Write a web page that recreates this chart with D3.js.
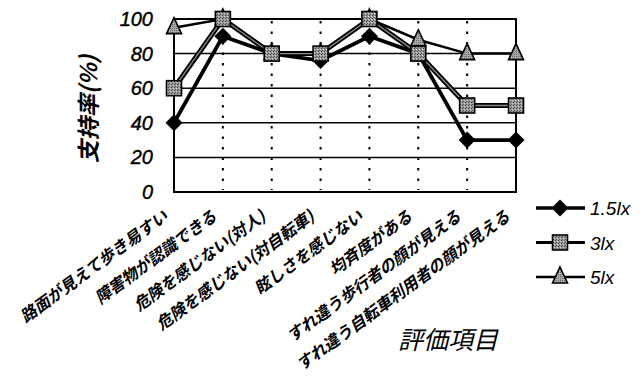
<!DOCTYPE html>
<html>
<head>
<meta charset="utf-8">
<script src="https://cdn.jsdelivr.net/npm/d3@7"></script>
<style>
  html, body { margin: 0; padding: 0; background: #fff; }
  svg { display: block; }
</style>
</head>
<body>
<svg id="chart" width="641" height="376"></svg>
<script>
// Evaluation items (x categories)
const categories = [
  "路面が見えて歩き易すい",
  "障害物が認識できる",
  "危険を感じない(対人)",
  "危険を感じない(対自転車)",
  "眩しさを感じない",
  "均斉度がある",
  "すれ違う歩行者の顔が見える",
  "すれ違う自転車利用者の顔が見える"
];
// Support rate (%) for each illuminance level
const series15 = [40, 90, 80, 76, 90, 80, 30, 30];
const series3  = [60, 100, 80, 80, 100, 80, 50, 50];
const series5  = [95, 100, 80, 80, 100, 88, 80, 80];
const seriesNames = ["1.5lx", "3lx", "5lx"];
const yTicks = [0, 20, 40, 60, 80, 100];
const yTitle = "支持率(%)";
const xTitle = "評価項目";

const svg = d3.select("#chart");
const plot = { left: 174, right: 516, top: 19, bottom: 192 };

const x = d3.scalePoint().domain(categories).range([plot.left, plot.right]);
const y = d3.scaleLinear().domain([0, 100]).range([plot.bottom, plot.top]);

// Textured grey fills used by the square and triangle markers
const defs = svg.append("defs");
const pat = defs.append("pattern").attr("id", "grain")
  .attr("width", 3).attr("height", 3).attr("patternUnits", "userSpaceOnUse");
pat.append("rect").attr("width", 3).attr("height", 3).attr("fill", "#9a9a9a");
pat.append("rect").attr("width", 1).attr("height", 1).attr("fill", "#444");
pat.append("rect").attr("x", 2).attr("y", 1).attr("width", 1).attr("height", 1).attr("fill", "#d0d0d0");
pat.append("rect").attr("x", 1).attr("y", 2).attr("width", 1).attr("height", 1).attr("fill", "#555");
const patT = defs.append("pattern").attr("id", "grainT")
  .attr("width", 2).attr("height", 2).attr("patternUnits", "userSpaceOnUse");
patT.append("rect").attr("width", 2).attr("height", 2).attr("fill", "#a8a8a8");
patT.append("rect").attr("width", 1).attr("height", 1).attr("fill", "#666");

// Horizontal gridlines
svg.append("g").selectAll("line").data(yTicks.filter(d => d > 0 && d < 100)).join("line")
  .attr("x1", plot.left).attr("x2", plot.right)
  .attr("y1", d => y(d)).attr("y2", d => y(d))
  .attr("stroke", "#000").attr("stroke-width", 1.5);

// Dotted vertical lines at the inner categories
svg.append("g").selectAll("line").data(categories.slice(1, -1)).join("line")
  .attr("x1", d => x(d)).attr("x2", d => x(d))
  .attr("y1", plot.top + 2).attr("y2", plot.bottom - 2)
  .attr("stroke", "#000").attr("stroke-width", 2)
  .attr("stroke-dasharray", "2.5,8");

// Plot frame
svg.append("rect")
  .attr("x", plot.left).attr("y", plot.top)
  .attr("width", plot.right - plot.left).attr("height", plot.bottom - plot.top)
  .attr("fill", "none").attr("stroke", "#000").attr("stroke-width", 2);

// Y axis tick labels
const yAxis = d3.axisLeft(y).tickValues(yTicks).tickSize(0).tickPadding(21);
const gy = svg.append("g").attr("transform", `translate(${plot.left},0)`).call(yAxis);
gy.select(".domain").remove();
gy.selectAll("text")
  .attr("font-family", "'Liberation Sans', Arial, sans-serif")
  .attr("font-style", "italic").attr("font-size", 20).attr("fill", "#000")
  .attr("stroke", "#000").attr("stroke-width", 0.4);

// Y axis title
svg.append("text")
  .attr("transform", "translate(97,109) rotate(-90)")
  .attr("text-anchor", "middle")
  .attr("font-family", "'Noto Sans CJK JP', sans-serif")
  .attr("font-style", "italic").attr("font-weight", "bold")
  .attr("font-size", 23).text(yTitle);

// Category labels, slanted
svg.append("g").selectAll("text").data(categories).join("text")
  .attr("transform", d => `translate(${x(d) - 5},${plot.bottom + 27}) rotate(-36)`)
  .attr("text-anchor", "end")
  .attr("font-family", "'Noto Sans CJK JP', sans-serif")
  .attr("font-style", "italic").attr("font-weight", "bold").attr("font-size", 16.2)
  .text(d => d);

// X axis title
svg.append("text")
  .attr("x", 448).attr("y", 349)
  .attr("text-anchor", "middle")
  .attr("font-family", "'Noto Sans CJK JP', sans-serif")
  .attr("font-style", "italic").attr("font-size", 25)
  .text(xTitle);

// Series lines
const line = d3.line().x((d, i) => x(categories[i])).y(d => y(d));
svg.append("path").datum(series5).attr("d", line)
  .attr("fill", "none").attr("stroke", "#000").attr("stroke-width", 2.5);
svg.append("path").datum(series15).attr("d", line)
  .attr("fill", "none").attr("stroke", "#000").attr("stroke-width", 3.8);
svg.append("path").datum(series3).attr("d", line)
  .attr("fill", "none").attr("stroke", "#000").attr("stroke-width", 5);
svg.append("path").datum(series3).attr("d", line)
  .attr("fill", "none").attr("stroke", "#8a8a8a").attr("stroke-width", 1.3);

// Marker drawing helpers
function diamond(g, cx, cy) {
  g.append("path").attr("d", `M${cx},${cy - 8.5}L${cx + 8.5},${cy}L${cx},${cy + 8.5}L${cx - 8.5},${cy}Z`)
    .attr("fill", "#000");
}
function square(g, cx, cy) {
  g.append("rect").attr("x", cx - 7.5).attr("y", cy - 7.5).attr("width", 15).attr("height", 15)
    .attr("fill", "url(#grain)").attr("stroke", "#000").attr("stroke-width", 1.6);
}
function triangle(g, cx, cy) {
  g.append("path").attr("d", `M${cx},${cy - 10}L${cx + 7.5},${cy + 6}L${cx - 7.5},${cy + 6}Z`)
    .attr("fill", "url(#grainT)").attr("stroke", "#000").attr("stroke-width", 1.6);
}

const gm = svg.append("g");
series15.forEach((v, i) => diamond(gm, x(categories[i]), y(v)));
series5.forEach((v, i) => triangle(gm, x(categories[i]), y(v)));
series3.forEach((v, i) => square(gm, x(categories[i]), y(v)));

// Legend
const legendRows = [
  { name: seriesNames[0], w: 3.5, mark: diamond },
  { name: seriesNames[1], w: 3, mark: square },
  { name: seriesNames[2], w: 2.4, mark: triangle }
];
const lg = svg.append("g");
legendRows.forEach((r, i) => {
  const ly = 208 + i * 34.5;
  lg.append("line").attr("x1", 536).attr("x2", 585).attr("y1", ly).attr("y2", ly)
    .attr("stroke", "#000").attr("stroke-width", r.w);
  r.mark(lg, 560, ly);
  lg.append("text").attr("x", 590).attr("y", ly + 7)
    .attr("font-family", "'Liberation Sans', Arial, sans-serif")
    .attr("font-style", "italic").attr("font-size", 19)
    .text(r.name);
});
</script>
</body>
</html>
